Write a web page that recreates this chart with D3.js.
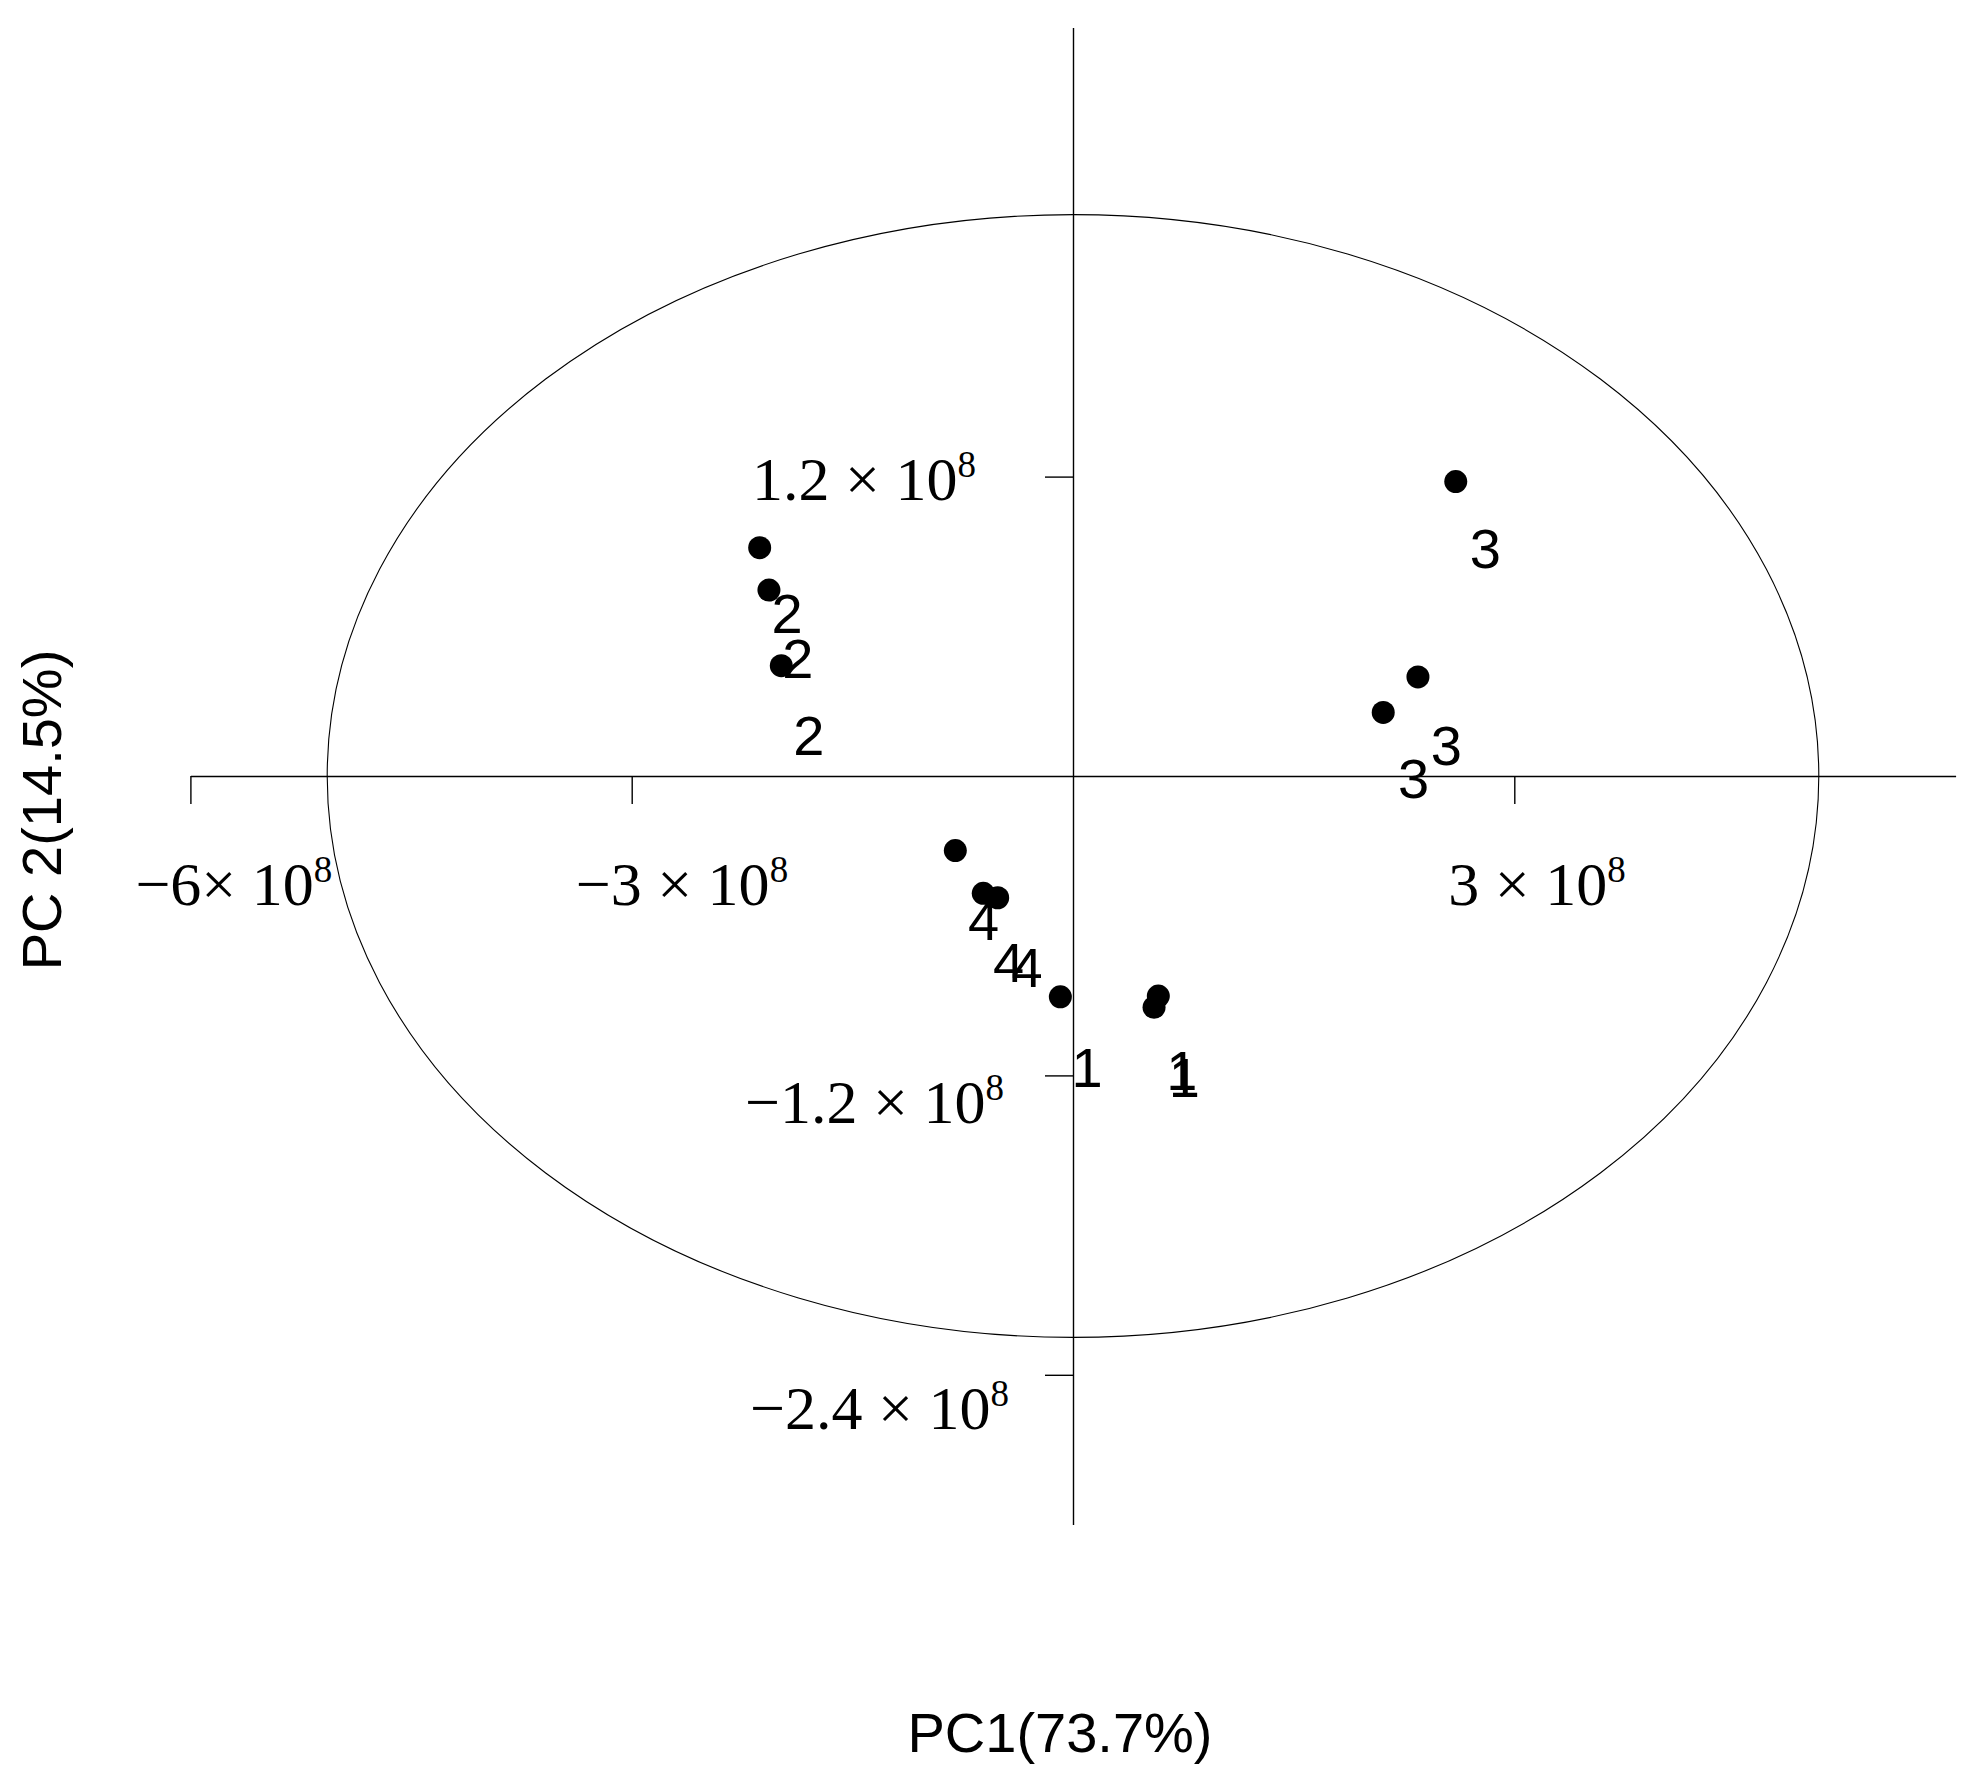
<!DOCTYPE html>
<html>
<head>
<meta charset="utf-8">
<script src="https://cdn.jsdelivr.net/npm/d3@7"></script>
<style>
  html, body { margin: 0; padding: 0; background: #fff; }
  svg { display: block; }
</style>
</head>
<body>
<svg id="chart" width="1980" height="1779"></svg>
<script>
// ---- data ----
const groups = ["1", "1", "1", "2", "2", "2", "3", "3", "3", "4", "4", "4"];
const pc1 = [-0.086e8, 0.580e8, 0.551e8, -2.130e8, -2.067e8, -1.983e8, 2.602e8, 2.345e8, 2.109e8, -0.800e8, -0.610e8, -0.512e8];
const pc2 = [-0.885e8, -0.882e8, -0.927e8, 0.915e8, 0.745e8, 0.442e8, 1.180e8, 0.397e8, 0.255e8, -0.299e8, -0.470e8, -0.488e8];
// label anchor positions (data units)
const labelText = ["1", "1", "1", "2", "2", "2", "3", "3", "3", "4", "4", "4"];
const labelPC1 = [0.082e8, 0.727e8, 0.743e8, -1.958e8, -1.885e8, -1.810e8, 2.789e8, 2.524e8, 2.302e8, -0.621e8, -0.451e8, -0.326e8];
const labelPC2 = [-1.165e8, -1.178e8, -1.205e8, 0.652e8, 0.472e8, 0.164e8, 0.915e8, 0.124e8, -0.009e8, -0.577e8, -0.744e8, -0.764e8];
const xTicks = [-6e8, -3e8, 3e8];
const xTickMain = ["\u22126\u00d7 10", "\u22123 \u00d7 10", "3 \u00d7 10"];
const yTicks = [1.2e8, -1.2e8, -2.4e8];
const yTickMain = ["1.2 \u00d7 10", "\u22121.2 \u00d7 10", "\u22122.4 \u00d7 10"];
const tickExp = "8";
const ellipseR = [5.07e8, 2.25e8];
const xTitle = "PC1(73.7%)";
const yTitle = "PC 2(14.5%)";

// ---- layout ----
const svg = d3.select("#chart");
const x = d3.scaleLinear().domain([-6e8, 6e8]).range([190.4, 1955.6]);
const y = d3.scaleLinear().domain([-3e8, 3e8]).range([1524.5, 27.5]);
const serif = "'Liberation Serif', 'Times New Roman', serif";
const sans = "'Liberation Sans', Arial, sans-serif";

// ellipse
svg.append("ellipse")
  .attr("cx", x(0)).attr("cy", y(0))
  .attr("rx", x(ellipseR[0]) - x(0))
  .attr("ry", y(0) - y(ellipseR[1]))
  .attr("fill", "none").attr("stroke", "#000").attr("stroke-width", 1.1);

// axes
const xAxis = d3.axisBottom(x).tickValues(xTicks).tickSize(28).tickSizeOuter(0).tickFormat("");
const yAxis = d3.axisLeft(y).tickValues(yTicks).tickSize(28).tickSizeOuter(0).tickFormat("");
const gx = svg.append("g").attr("transform", `translate(0,${y(0)})`).call(xAxis);
const gy = svg.append("g").attr("transform", `translate(${x(0)},0)`).call(yAxis);
[gx, gy].forEach(g => {
  g.selectAll("path, line").attr("stroke", "#000").attr("stroke-width", 1.4);
});

// tick labels (offsets relative to tick position)
const xLabDx = [-55, -56, -66];
const xLabBase = 129;
xTicks.forEach((v, i) => {
  const t = svg.append("text")
    .attr("x", x(v) + xLabDx[i]).attr("y", y(0) + xLabBase)
    .attr("font-family", serif).attr("font-size", 62).attr("fill", "#000");
  t.append("tspan").text(xTickMain[i]);
  t.append("tspan").attr("font-size", 37).attr("dy", -23).text(tickExp);
});
const yLabX = [752, 745, 750];
const yLabDy = [23, 48, 54];
yTicks.forEach((v, i) => {
  const t = svg.append("text")
    .attr("x", yLabX[i]).attr("y", y(v) + yLabDy[i])
    .attr("font-family", serif).attr("font-size", 62).attr("fill", "#000");
  t.append("tspan").text(yTickMain[i]);
  t.append("tspan").attr("font-size", 37).attr("dy", -23).text(tickExp);
});

// points
svg.append("g").selectAll("circle")
  .data(pc1.map((d, i) => ({x: d, y: pc2[i], g: groups[i]})))
  .join("circle")
  .attr("cx", d => x(d.x)).attr("cy", d => y(d.y))
  .attr("r", 11.5).attr("fill", "#000");

// point labels
svg.append("g").selectAll("text")
  .data(labelText.map((t, i) => ({t, x: labelPC1[i], y: labelPC2[i]})))
  .join("text")
  .attr("x", d => x(d.x) + 2).attr("y", d => y(d.y) + 20)
  .attr("text-anchor", "middle")
  .attr("font-family", sans).attr("font-size", 56).attr("fill", "#000")
  .text(d => d.t);

// axis titles
svg.append("text")
  .attr("x", 1060).attr("y", 1752)
  .attr("text-anchor", "middle")
  .attr("font-family", sans).attr("font-size", 56).attr("fill", "#000")
  .text(xTitle);
svg.append("text")
  .attr("transform", "translate(61,810) rotate(-90)")
  .attr("text-anchor", "middle")
  .attr("font-family", sans).attr("font-size", 56).attr("fill", "#000")
  .text(yTitle);
</script>
</body>
</html>
